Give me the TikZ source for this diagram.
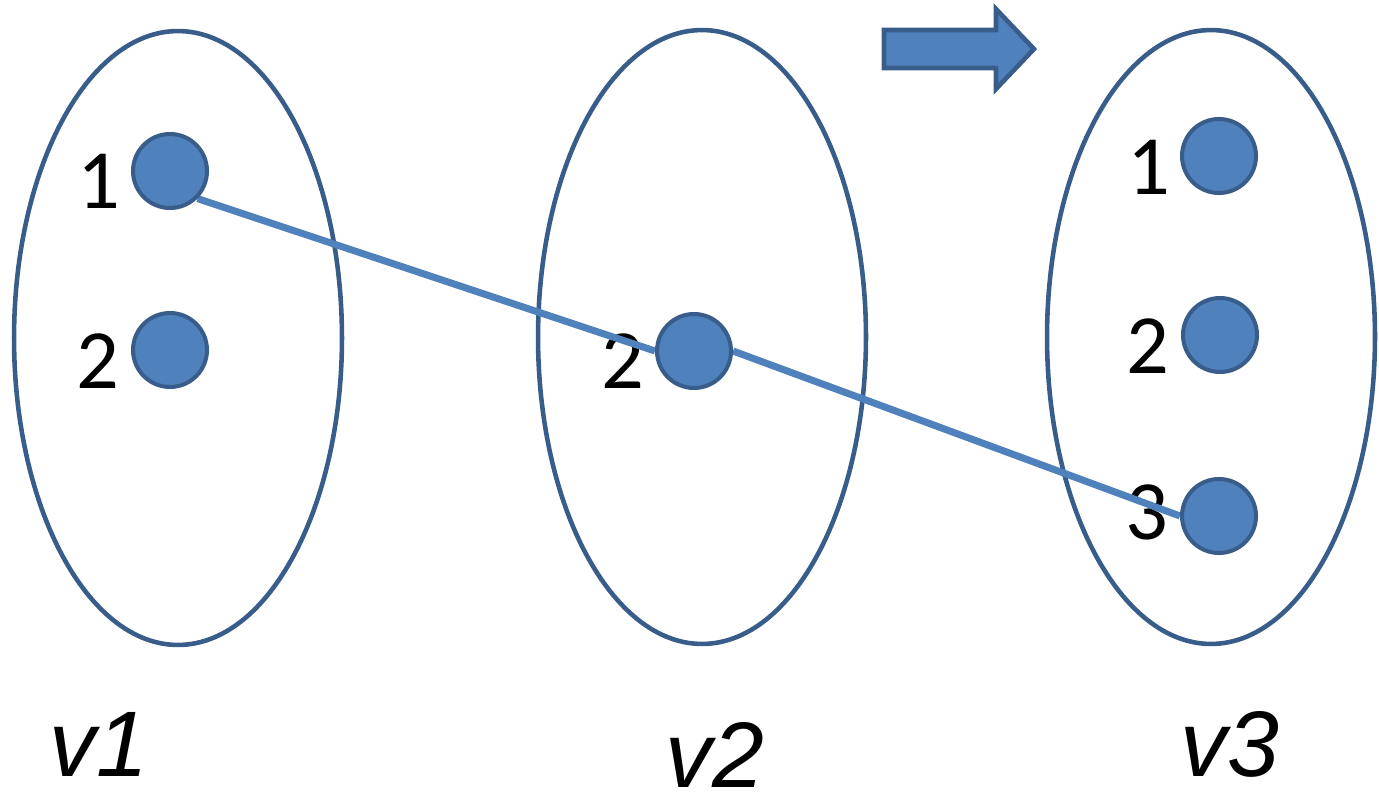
\documentclass[tikz,border=0pt]{standalone}
\usepackage{fontspec}
\setmainfont{Carlito}
\newfontfamily\arialfont{Liberation Sans}
\usetikzlibrary{positioning, shapes.geometric}
\definecolor{dotblue}{HTML}{4F81BD}
\definecolor{rimblue}{HTML}{385D8A}
\pgfdeclarelayer{back}
\pgfdeclarelayer{mid}
\pgfsetlayers{back,mid,main}
\tikzset{
  group/.style={draw=rimblue, ellipse, line width=2.6pt, minimum width=6.56cm, minimum height=12.28cm, inner sep=0pt},
  dot/.style={circle, draw=rimblue, fill=dotblue, line width=2.3pt, minimum size=1.48cm, inner sep=0pt},
  num/.style={font=\fontsize{48}{50}\selectfont, inner sep=0pt},
  vname/.style={font=\arialfont\itshape\fontsize{53}{56}\selectfont, inner sep=0pt},
  link/.style={draw=dotblue, line width=4pt},
  blockarrow/.style={draw=rimblue, fill=dotblue, line width=2.6pt, line join=miter},
}

\begin{document}
\begin{tikzpicture}[x=0.02cm, y=-0.02cm]
    \useasboundingbox (0,0) rectangle (1379,794);
    \begin{pgfonlayer}{back}
      % the three sets
      \node[group] (g1) at (178,338) {};
      \node[group] (g2) at (702,337) {};
      \node[group] (g3) at (1211,337) {};
      \node[num] (n11) at (99,181) {1};
      \node[num] (n12) at (98,361) {2};
      \node[num] (n22) at (623,361) {2};
      \node[num] (n31) at (1149,167) {1};
      \node[num] (n32) at (1148,346) {2};
      \node[num] (n33) at (1147,512) {3};
    \end{pgfonlayer}
    \node[dot] (a1) at (170,171) {};
    \node[dot] (a2) at (170,350) {};
    \node[dot] (b2) at (694,351) {};
    \node[dot] (c1) at (1219,156) {};
    \node[dot] (c2) at (1220,335) {};
    \node[dot] (c3) at (1219,516) {};
    \begin{pgfonlayer}{mid}
      \draw[link] (a1.south east) -- (b2.west);
      \draw[link] (b2.east) -- (c3.west);
    \end{pgfonlayer}
    \filldraw[blockarrow] (884,30) -- (996,30) -- (996,9) -- (1034,49) -- (996,89) -- (996,68) -- (884,68) -- cycle;
    \node[vname] (v1) at (99,744) {v1};
    \node[vname] (v2) at (715,755) {v2};
    \node[vname] (v3) at (1230,744) {v3};
\end{tikzpicture}
\end{document}
